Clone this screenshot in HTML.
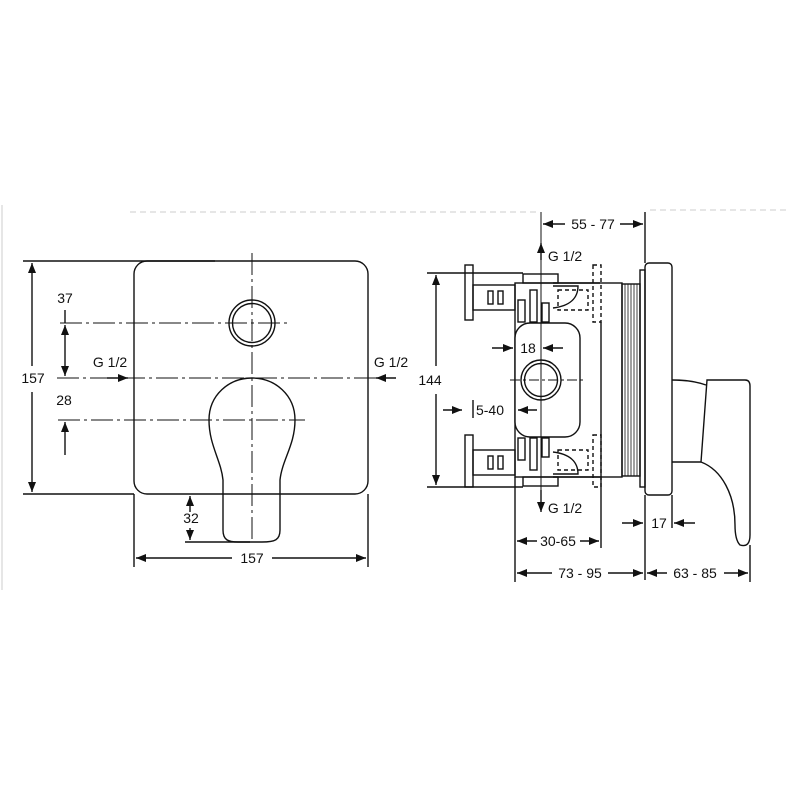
<!DOCTYPE html>
<html><head><meta charset="utf-8"><style>
html,body{margin:0;padding:0;background:#fff;}
svg{display:block}
text{font-family:"Liberation Sans",sans-serif;font-size:14px;fill:#111;}
</style></head><body>
<svg width="800" height="800" viewBox="0 0 800 800" xmlns="http://www.w3.org/2000/svg">
<defs>
<marker id="a" markerWidth="10" markerHeight="8" refX="10" refY="4" orient="auto" markerUnits="userSpaceOnUse">
<path d="M0,0 L10,4 L0,8 Z" fill="#111"/></marker>
</defs>
<g stroke="#ccc" stroke-width="1" fill="none">
<line x1="130" y1="212" x2="540" y2="212" stroke-dasharray="6,4"/>
<line x1="650" y1="210" x2="790" y2="210" stroke-dasharray="6,4"/>
<line x1="2" y1="205" x2="2" y2="590"/>
</g>
<g stroke="#111" stroke-width="1.4" fill="none">
<!-- LEFT VIEW -->
<rect x="134" y="261" width="234" height="233" rx="13"/>
<circle cx="252" cy="323" r="23"/>
<circle cx="252" cy="323" r="19.5"/>
<path d="M252,378 C275,378 295,395 295,420 C295,445 282,460 280,480 L280,530 C280,540 275,542 262,542 L238,542 C228,542 223,540 223,530 L223,480 C221,460 209,445 209,420 C209,395 229,378 252,378 Z"/>
<g stroke-width="1" stroke-dasharray="22,4,3,4">
<line x1="60" y1="323" x2="288" y2="323"/>
<line x1="57" y1="378" x2="395" y2="378"/>
<line x1="58" y1="420" x2="305" y2="420"/>
<line x1="252" y1="253" x2="252" y2="540"/>
</g>
<line x1="23" y1="261" x2="215" y2="261"/>
<line x1="23" y1="494" x2="134" y2="494"/>
<line x1="32" y1="366" x2="32" y2="263" marker-end="url(#a)"/>
<line x1="32" y1="392" x2="32" y2="492" marker-end="url(#a)"/>
<line x1="65" y1="350" x2="65" y2="325" marker-end="url(#a)"/>
<line x1="65" y1="350" x2="65" y2="376" marker-end="url(#a)"/>
<line x1="65" y1="310" x2="65" y2="323"/>
<line x1="65" y1="455" x2="65" y2="422" marker-end="url(#a)"/>
<line x1="107" y1="378" x2="128" y2="378" marker-end="url(#a)"/>
<line x1="396" y1="378" x2="376" y2="378" marker-end="url(#a)"/>
<line x1="190" y1="512" x2="190" y2="496" marker-end="url(#a)"/>
<line x1="190" y1="528" x2="190" y2="540" marker-end="url(#a)"/>
<line x1="185" y1="542" x2="250" y2="542"/>
<line x1="134" y1="494" x2="134" y2="567"/>
<line x1="368" y1="494" x2="368" y2="567"/>
<line x1="232" y1="558" x2="136" y2="558" marker-end="url(#a)"/>
<line x1="272" y1="558" x2="366" y2="558" marker-end="url(#a)"/>

<!-- RIGHT VIEW -->
<rect x="645" y="263" width="27" height="232" rx="4"/>
<rect x="640" y="270" width="5" height="217"/>
<rect x="622" y="284" width="18" height="192"/>
<g stroke-width="0.8"><line x1="625" y1="284" x2="625" y2="476"/><line x1="628" y1="284" x2="628" y2="476"/><line x1="631" y1="284" x2="631" y2="476"/><line x1="634" y1="284" x2="634" y2="476"/><line x1="637" y1="284" x2="637" y2="476"/></g>
<rect x="515" y="283" width="107" height="194"/>
<rect x="523" y="274" width="35" height="9"/>
<rect x="523" y="477" width="35" height="9"/>
<line x1="553" y1="283" x2="600" y2="283"/>
<line x1="553" y1="477" x2="600" y2="477"/>
<rect x="518" y="300" width="7" height="22"/><rect x="530" y="290" width="7" height="32"/><rect x="542" y="303" width="7" height="19"/>
<rect x="518" y="438" width="7" height="22"/><rect x="530" y="438" width="7" height="32"/><rect x="542" y="438" width="7" height="19"/>
<path d="M553,286 L578,286 C578,298 570,306 553,308" />
<path d="M553,474 L578,474 C578,462 570,454 553,452" />
<g stroke-dasharray="4,3"><rect x="558" y="290" width="30" height="20"/><rect x="558" y="450" width="30" height="20"/>
<rect x="593" y="265" width="8" height="57"/><rect x="593" y="435" width="8" height="52"/></g>
<rect x="465" y="265" width="8" height="55"/><rect x="465" y="435" width="8" height="52"/>
<rect x="473" y="285" width="42" height="25"/><rect x="473" y="450" width="42" height="25"/>
<rect x="488" y="291" width="5" height="13"/><rect x="498" y="291" width="5" height="13"/>
<rect x="488" y="456" width="5" height="13"/><rect x="498" y="456" width="5" height="13"/>
<rect x="515" y="323" width="65" height="114" rx="15" fill="#fff"/>
<circle cx="541" cy="380" r="20"/><circle cx="541" cy="380" r="16.5"/>
<line x1="510" y1="380" x2="585" y2="380" stroke-width="1" stroke-dasharray="10,3,3,3"/>
<line x1="541" y1="212" x2="541" y2="490" stroke-width="1"/>
<!-- handle side -->
<path d="M672,380 Q692,380 706,385"/>
<path d="M672,462 L701,462"/>
<path d="M707,380 L745,380 Q750,380 750,386 L750,535 Q750,548 740,545 Q735,540 735,525 C735,495 722,470 701,462 L707,380 Z"/>
<!-- dims right -->
<line x1="427" y1="273" x2="523" y2="273"/>
<line x1="427" y1="487" x2="523" y2="487"/>
<line x1="436" y1="366" x2="436" y2="275" marker-end="url(#a)"/>
<line x1="436" y1="394" x2="436" y2="485" marker-end="url(#a)"/>
<line x1="645" y1="212" x2="645" y2="263"/>
<line x1="645" y1="495" x2="645" y2="580"/>
<line x1="565" y1="224" x2="543" y2="224" marker-end="url(#a)"/>
<line x1="620" y1="224" x2="643" y2="224" marker-end="url(#a)"/>
<line x1="541" y1="260" x2="541" y2="243" marker-end="url(#a)"/>
<line x1="541" y1="490" x2="541" y2="512" marker-end="url(#a)"/>
<line x1="492" y1="348" x2="513" y2="348" marker-end="url(#a)"/>
<line x1="563" y1="348" x2="543" y2="348" marker-end="url(#a)"/>
<line x1="443" y1="410" x2="462" y2="410" marker-end="url(#a)"/>
<line x1="537" y1="410" x2="518" y2="410" marker-end="url(#a)"/>
<line x1="473" y1="400" x2="473" y2="418"/>
<line x1="622" y1="523" x2="643" y2="523" marker-end="url(#a)"/>
<line x1="695" y1="523" x2="674" y2="523" marker-end="url(#a)"/>
<line x1="672" y1="495" x2="672" y2="528"/>
<line x1="601" y1="322" x2="601" y2="548"/>
<line x1="515" y1="477" x2="515" y2="582"/>
<line x1="750" y1="545" x2="750" y2="582"/>
<line x1="537" y1="541" x2="517" y2="541" marker-end="url(#a)"/>
<line x1="580" y1="541" x2="599" y2="541" marker-end="url(#a)"/>
<line x1="552" y1="573" x2="517" y2="573" marker-end="url(#a)"/>
<line x1="608" y1="573" x2="643" y2="573" marker-end="url(#a)"/>
<line x1="667" y1="573" x2="647" y2="573" marker-end="url(#a)"/>
<line x1="724" y1="573" x2="748" y2="573" marker-end="url(#a)"/>
</g>
<g text-anchor="middle">
<text x="33" y="383">157</text>
<text x="65" y="303">37</text>
<text x="64" y="405">28</text>
<text x="110" y="367">G 1/2</text>
<text x="391" y="367">G 1/2</text>
<text x="191" y="523">32</text>
<text x="252" y="563">157</text>
<text x="593" y="229">55 - 77</text>
<text x="565" y="261">G 1/2</text>
<text x="565" y="513">G 1/2</text>
<text x="430" y="385">144</text>
<text x="528" y="353">18</text>
<text x="490" y="415">5-40</text>
<text x="659" y="528">17</text>
<text x="558" y="546">30-65</text>
<text x="580" y="578">73 - 95</text>
<text x="695" y="578">63 - 85</text>
</g>
</svg>
</body></html>
